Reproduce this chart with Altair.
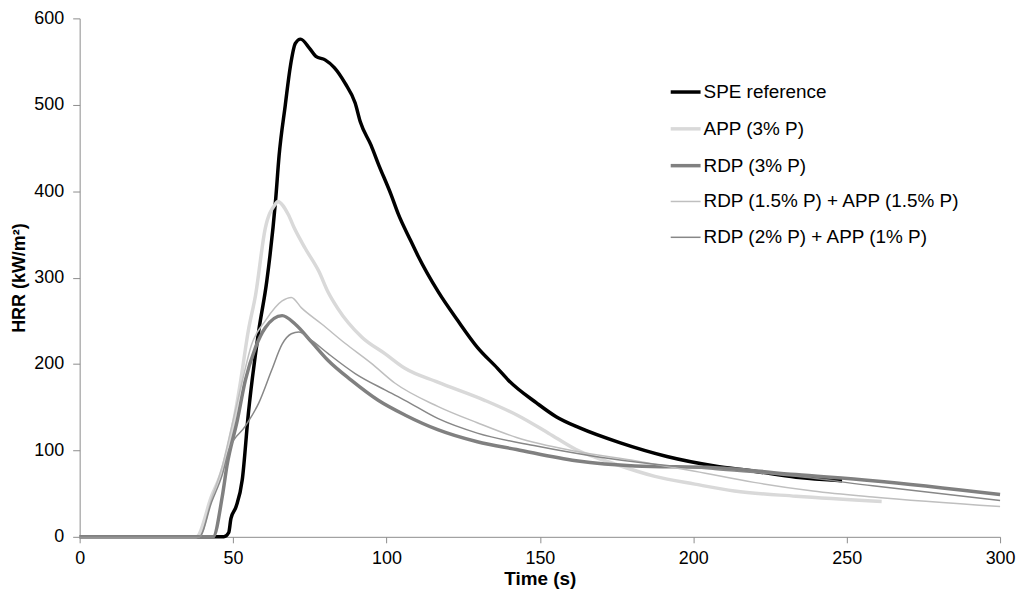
import altair as alt
import pandas as pd

series_names = [
    "SPE reference",
    "APP (3% P)",
    "RDP (3% P)",
    "RDP (1.5% P) + APP (1.5% P)",
    "RDP (2% P) + APP (1% P)",
]
series_colors = ["#000000", "#d9d9d9", "#808080", "#bfbfbf", "#878787"]
series_widths = [3.5, 3.5, 3.5, 1.5, 1.5]

spe_t = [0, 47, 48.6, 49.3, 51, 53, 55, 58.4, 61, 63.9, 65, 67, 68.7, 70.3, 72, 75, 77, 80, 83,
         86.5, 89.8, 91.5, 95, 97.3, 101.5, 103.8, 108, 110.3, 116.8, 123.3, 129.7, 136.2, 139.8,
         148.9, 155.3, 163, 176, 191.4, 207, 219.8, 233.5, 248.5]
spe_v = [0, 0, 5, 21, 35, 66, 143, 239, 296, 391, 441, 499, 545, 571, 576, 565, 556, 552, 543,
         525, 502, 480, 453, 432, 396, 374, 342, 325, 284, 250, 219, 195, 181,
         155, 139, 126, 109, 93, 82, 76, 69, 65]

app_t = [0, 38, 43, 46.5, 49.7, 52.5, 55, 57.3, 60.5, 63.8, 64.5, 68, 70, 73.5, 78, 81, 84, 92,
         99.5, 106, 116.7, 132, 142.5, 152.8, 161.8, 174.7, 187.5, 200.5, 213.4, 233.5, 261.4]
app_v = [0, 0, 47, 78, 124, 181, 239, 279, 357, 385, 388, 373, 357, 334, 307, 283, 265, 231,
         212, 195, 179, 158, 141, 120, 101, 84, 70, 61, 53, 47, 41]

rdp_t = [0, 43.5, 46.5, 48, 51.4, 54, 57.3, 60.5, 66, 70.3, 75.7, 81, 88.6, 97.3, 106, 116.7,
         129.6, 142.4, 161.8, 181, 207, 233.5, 258.5, 300]
rdp_v = [0, 0, 47, 82, 135, 181, 219, 242, 256, 246, 225, 204, 181, 158, 141, 124,
         110, 101, 88, 82, 80, 72, 65, 49]

mix15_t = [0, 39, 43, 46.5, 49.7, 53, 56, 60.5, 66, 69, 72.3, 79, 86.5, 95, 102.7, 116.7,
           129.6, 142.4, 161.8, 181, 200.5, 219.8, 239, 258.5, 300]
mix15_v = [0, 0, 44, 82, 130, 180, 222, 250, 273, 277, 265, 246, 224, 201, 178, 151,
           132, 115, 99, 88, 76, 63, 53, 46, 35]

mix21_t = [0, 39, 43, 46.5, 48.7, 54, 58.4, 62.6, 66, 69, 71.4, 75.7, 81, 89.8, 99.5, 106,
           116.7, 129.6, 148.9, 168, 187.5, 207, 233.5, 258.5, 300]
mix21_v = [0, 0, 40, 72, 101, 128, 155, 193, 223, 235, 237, 227, 212, 189, 170, 158,
           137, 120, 105, 93, 84, 78, 70, 59, 42]

all_t = [spe_t, app_t, rdp_t, mix15_t, mix21_t]
all_v = [spe_v, app_v, rdp_v, mix15_v, mix21_v]

rows = []
for name, ts, vs in zip(series_names, all_t, all_v):
    for i, (t, v) in enumerate(zip(ts, vs)):
        rows.append({"series": name, "time": t, "hrr": v, "idx": i})
df = pd.DataFrame(rows)

font = "Liberation Sans"

legend_kw = dict(title=None, orient="none", legendX=592, legendY=57,
                 symbolType="stroke", symbolSize=900,
                 labelFontSize=19, labelFont=font, labelColor="#000000",
                 rowPadding=10, labelOffset=1, labelLimit=400)

chart = alt.Chart(df).mark_line(strokeJoin="round", strokeCap="butt", interpolate="monotone").encode(
    x=alt.X("time:Q",
            scale=alt.Scale(domain=[0, 300], nice=False),
            axis=alt.Axis(title="Time (s)", values=[0, 50, 100, 150, 200, 250, 300],
                          grid=False, tickSize=6, labelPadding=7,
                          titleY=48, titleBaseline="alphabetic", titleFontSize=19,
                          labelFlush=False)),
    y=alt.Y("hrr:Q",
            scale=alt.Scale(domain=[0, 600], nice=False),
            axis=alt.Axis(title="HRR (kW/m²)", values=[0, 100, 200, 300, 400, 500, 600],
                          grid=False, tickSize=7, labelPadding=9, titlePadding=5,
                          titleFontSize=18, labelFlush=False)),
    color=alt.Color("series:N",
                    scale=alt.Scale(domain=series_names, range=series_colors),
                    legend=alt.Legend(**legend_kw)),
    strokeWidth=alt.StrokeWidth("series:N",
                                scale=alt.Scale(type="ordinal", domain=series_names,
                                                range=series_widths),
                                legend=alt.Legend(**legend_kw)),
    order=alt.Order("idx:Q"),
    detail="series:N",
).properties(
    width=925,
    height=521,
    autosize=alt.AutoSizeParams(type="none"),
    padding={"left": 72, "top": 9, "right": 16, "bottom": 52},
).configure_view(
    stroke=None
).configure_axis(
    domainColor="#8c8c8c",
    tickColor="#8c8c8c",
    labelFont=font,
    labelFontSize=18,
    labelColor="#000000",
    titleFont=font,
    titleFontWeight="bold",
    titleColor="#000000",
)

chart.save("out.html", embed_options={"renderer": "svg", "actions": False})
